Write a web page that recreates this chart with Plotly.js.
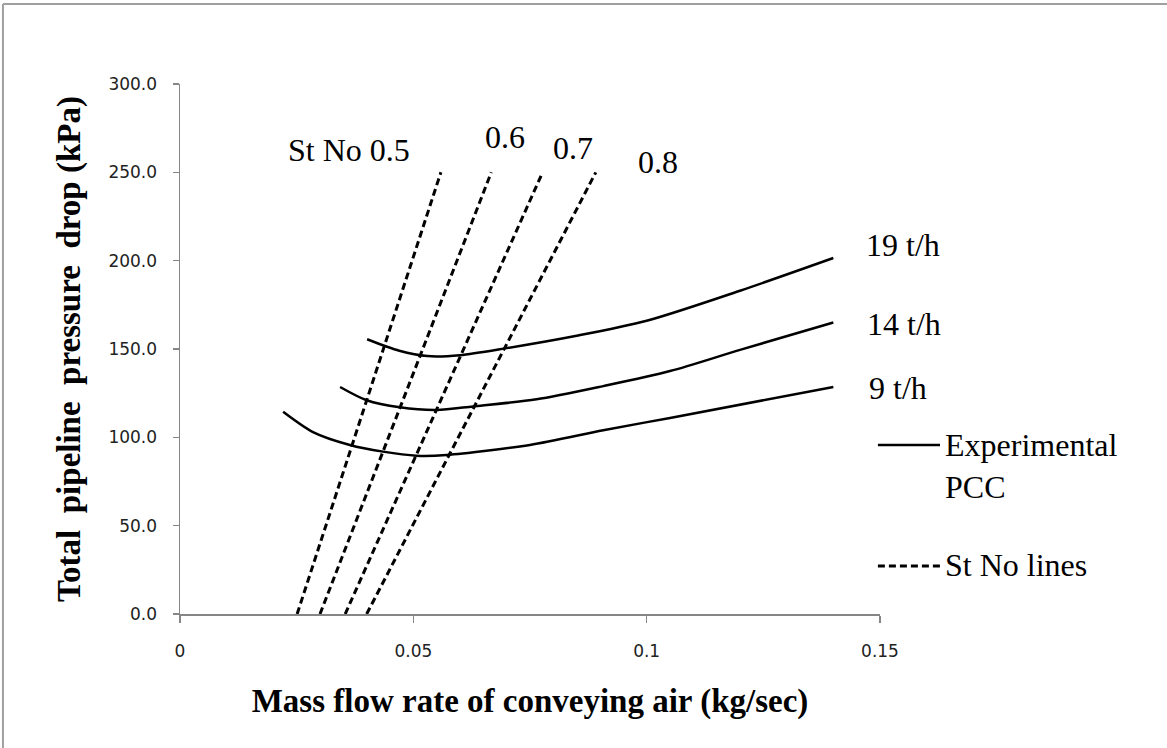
<!DOCTYPE html>
<html>
<head>
<meta charset="utf-8">
<script src="https://cdn.plot.ly/plotly-3.0.1.min.js"></script>
<style>
html,body{margin:0;padding:0;background:#fff;}
#chart{width:1167px;height:748px;}
</style>
</head>
<body>
<div id="chart"></div>
<script>
// Experimental PCC curves (mass flow rate kg/s vs pressure drop kPa)
const x19 = [0.0401, 0.0470, 0.0530, 0.0600, 0.0700, 0.0850, 0.1000, 0.1200, 0.1400];
const y19 = [155.5, 149.0, 146.0, 146.5, 150.5, 157.5, 166.0, 183.0, 201.5];
const x14 = [0.0343, 0.0400, 0.0471, 0.0550, 0.0628, 0.0764, 0.0907, 0.1050, 0.1200, 0.1400];
const y14 = [128.5, 121.0, 117.0, 115.5, 117.5, 121.5, 129.0, 137.5, 149.5, 165.0];
const x9  = [0.0221, 0.0285, 0.0364, 0.0435, 0.0507, 0.0571, 0.0750, 0.0907, 0.1050, 0.1400];
const y9  = [114.5, 103.0, 95.7, 91.9, 89.6, 90.0, 95.7, 104.0, 111.0, 128.5];
// Stokes number lines
const xSt05 = [0.0251, 0.0559];
const xSt06 = [0.0300, 0.0667];
const xSt07 = [0.0354, 0.0777];
const xSt08 = [0.0400, 0.0891];
const ySt = [0, 250];
const curveLabels = ["19 t/h", "14 t/h", "9 t/h"];
const stLabels = ["St No 0.5", "0.6", "0.7", "0.8"];
const xTicks = [0, 0.05, 0.1, 0.15];
const yTicks = [0, 50, 100, 150, 200, 250, 300];

const serif = "Liberation Serif, Times New Roman, serif";
const sans = "DejaVu Sans, Verdana, sans-serif";
const solid = {color: "#000", width: 2.5, shape: "spline", smoothing: 0.8};
const dashed = {color: "#000", width: 3, dash: "7px,4px"};

const traces = [
  {x: x19, y: y19, mode: "lines", line: solid, name: curveLabels[0], showlegend: false},
  {x: x14, y: y14, mode: "lines", line: solid, name: curveLabels[1], showlegend: false},
  {x: x9,  y: y9,  mode: "lines", line: solid, name: curveLabels[2], showlegend: false},
  {x: xSt05, y: ySt, mode: "lines", line: dashed, name: "St 0.5", showlegend: false},
  {x: xSt06, y: ySt, mode: "lines", line: dashed, name: "St 0.6", showlegend: false},
  {x: xSt07, y: ySt, mode: "lines", line: dashed, name: "St 0.7", showlegend: false},
  {x: xSt08, y: ySt, mode: "lines", line: dashed, name: "St 0.8", showlegend: false}
];

const annFont = {family: serif, size: 32, color: "#000"};
function ann(text, x, y, xanchor, xref, yref) {
  return {text: text, x: x, y: y, xref: xref || "x", yref: yref || "y",
          xanchor: xanchor, yanchor: "middle", showarrow: false, font: annFont};
}

const annotations = [
  ann(stLabels[0], 0.0362, 262.6, "center"),
  ann(stLabels[1], 0.0696, 270.0, "center"),
  ann(stLabels[2], 0.0842, 263.8, "center"),
  ann(stLabels[3], 0.1024, 255.8, "center"),
  ann(curveLabels[0], 0.1466, 208.9, "left"),
  ann(curveLabels[1], 0.1468, 164.1, "left"),
  ann(curveLabels[2], 0.1472, 127.9, "left"),
  ann("Experimental", 1.0900, 0.3189, "left", "paper", "paper"),
  ann("PCC", 1.0900, 0.2396, "left", "paper", "paper"),
  ann("St No lines", 1.0900, 0.0925, "left", "paper", "paper")
];

const shapes = [
  // legend keys
  {type: "line", xref: "paper", yref: "paper", x0: 0.997, x1: 1.0857, y0: 0.3189, y1: 0.3189,
   line: {color: "#000", width: 2.5}},
  {type: "line", xref: "paper", yref: "paper", x0: 0.997, x1: 1.0857, y0: 0.0906, y1: 0.0906,
   line: {color: "#000", width: 3, dash: "7px,4px"}},
  // outer frame (top and left edges)
  {type: "line", xref: "paper", yref: "paper", x0: -0.2529, x1: 1.42, y0: 1.1509, y1: 1.1509,
   line: {color: "#a0a0a0", width: 2}},
  {type: "line", xref: "paper", yref: "paper", x0: -0.2529, x1: -0.2529, y0: 1.1509, y1: -0.26,
   line: {color: "#a0a0a0", width: 2}}
];

const layout = {
  width: 1167, height: 748,
  margin: {l: 180, r: 287, t: 84, b: 134, pad: 0},
  paper_bgcolor: "#fff", plot_bgcolor: "#fff",
  showlegend: false,
  xaxis: {
    range: [0, 0.15], tickvals: xTicks, ticktext: xTicks.map(String),
    showgrid: false, zeroline: false, showline: true, linecolor: "#868686", linewidth: 1.5,
    ticks: "outside", ticklen: 7, tickcolor: "#868686", tickwidth: 1.5,
    tickfont: {family: sans, size: 17, color: "#222"}, ticklabelstandoff: 14,
    title: {text: "Mass flow rate of conveying air (kg/sec)", font: {family: serif, size: 33, color: "#000", weight: "bold"}, standoff: 29},
    automargin: false, fixedrange: true
  },
  yaxis: {
    range: [0, 300], tickvals: yTicks, tickformat: ".1f",
    showgrid: false, zeroline: false, showline: true, linecolor: "#868686", linewidth: 1.5,
    ticks: "outside", ticklen: 6, tickcolor: "#868686", tickwidth: 1.5,
    tickfont: {family: sans, size: 17, color: "#222"}, ticklabelstandoff: 12,
    title: {text: "Total\u00a0 pipeline\u00a0 pressure\u00a0 drop (kPa)", font: {family: serif, size: 33, color: "#000", weight: "bold"}, standoff: 18},
    automargin: false, fixedrange: true
  },
  annotations: annotations,
  shapes: shapes
};

Plotly.newPlot("chart", traces, layout, {displayModeBar: false, staticPlot: true});
</script>
</body>
</html>
